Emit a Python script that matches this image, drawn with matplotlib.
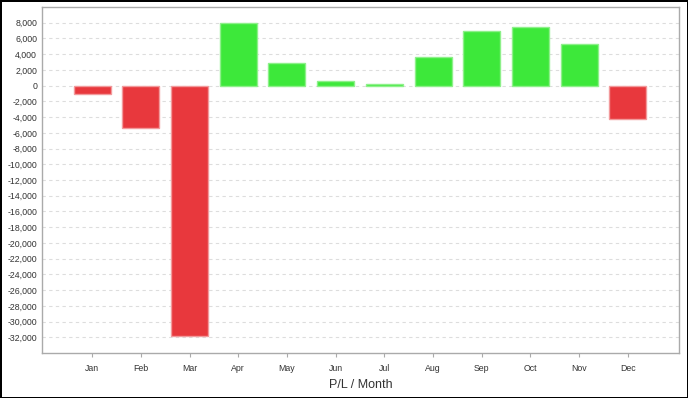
import matplotlib.pyplot as plt
import numpy as np

plt.rcParams['font.family'] = ['Liberation Sans', 'DejaVu Sans']

months = ['Jan', 'Feb', 'Mar', 'Apr', 'May', 'Jun', 'Jul', 'Aug', 'Sep', 'Oct', 'Nov', 'Dec']
pl = [-1100, -5400, -31800, 7950, 2820, 630, 160, 3670, 6960, 7500, 5270, -4270]

green = '#3de83a'
red = '#e8383d'
green_edge = '#8ef08a'
red_edge = '#f29a9c'

fig = plt.figure(figsize=(6.88, 3.98), dpi=100)
fig.patch.set_edgecolor('black')
fig.patch.set_linewidth(2)
ax = fig.add_axes([42 / 688, 1 - 353 / 398, (679 - 42) / 688, (353 - 7) / 398])

pos = np.arange(len(months))
colors = [green if v >= 0 else red for v in pl]
edges = [green_edge if v >= 0 else red_edge for v in pl]
ax.bar(pos, pl, width=0.76, color=colors, edgecolor=edges, linewidth=1, zorder=3)

ax.set_xlim(-1.03, 12.05)
ax.set_ylim(-34000, 10000)
ax.set_yticks(np.arange(-32000, 8001, 2000))
ax.yaxis.set_major_formatter(plt.FuncFormatter(lambda v, p: '{:,.0f}'.format(v)))
ax.set_xticks(pos)
ax.set_xticklabels(months)

ax.grid(axis='y', color='#dddddd', linestyle=(0, (3, 3)), linewidth=0.8, zorder=0)
for s in ax.spines.values():
    s.set_color('#aaaaaa')
    s.set_linewidth(1)

ax.tick_params(axis='y', length=0, pad=3.5, labelsize=6.3, labelcolor='#333333')
ax.tick_params(axis='x', length=3, color='#aaaaaa', pad=5, labelsize=6.3, labelcolor='#333333')

ax.set_xlabel('P/L / Month', fontsize=9, color='#333333', labelpad=4)

fig.savefig('out.png', dpi=100, edgecolor=fig.get_edgecolor())
